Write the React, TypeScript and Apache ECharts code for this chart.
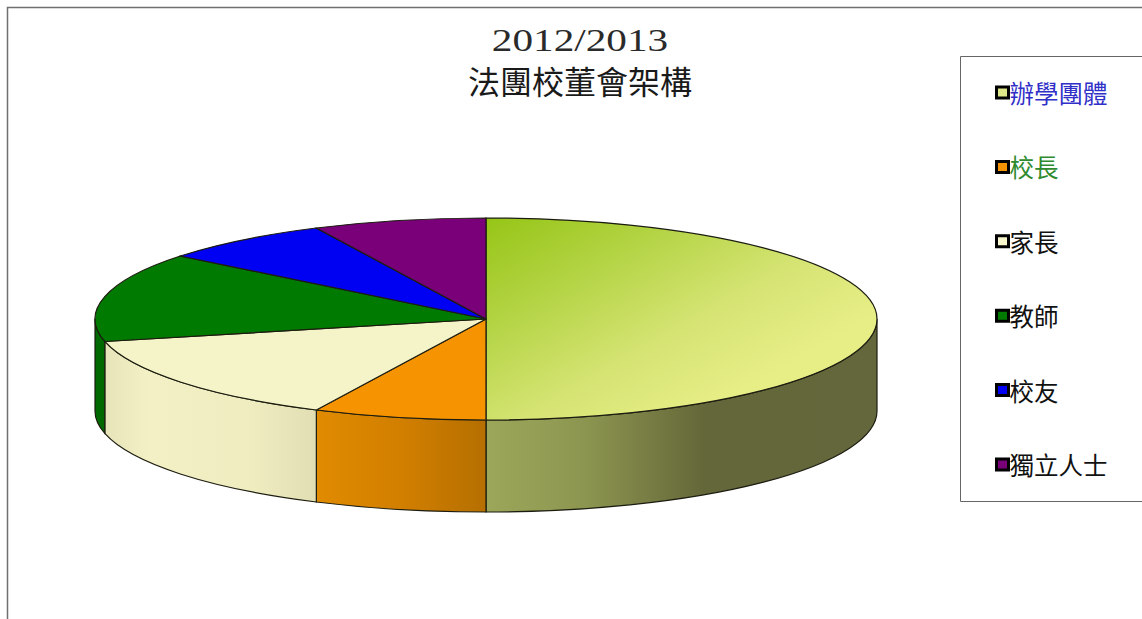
import React, { useEffect, useRef } from "react";
import * as echarts from "echarts";

const yearLabel = "2012/2013";
const titleLabel = "法團校董會架構";
const categories = ["辦學團體", "校長", "家長", "教師", "校友", "獨立人士"];
const members = [7, 1, 2, 2, 1, 1];
const topColors: any[] = [
  null,
  "#f59300",
  "#f4f4c8",
  "#007a00",
  "#0000f2",
  "#7a007a",
];
const legendColors = ["#3030c8", "#2e8b2e", "#111111", "#111111", "#111111", "#111111"];
const legendSwatches: any[] = ["#dfe98a", "#f59300", "#f8f8cc", "#007a00", "#0000f2", "#7a007a"];

const CX = 486;
const CY = 319;
const RX = 391;
const RY = 101;
const DEPTH = 92;
const TOTAL = members.reduce((a, b) => a + b, 0);

const pt = (deg: number, dy = 0) => {
  const r = (deg * Math.PI) / 180;
  return [CX + RX * Math.sin(r), CY - RY * Math.cos(r) + dy];
};
const grad = (x: number, y: number, x2: number, y2: number, stops: [number, string][]) =>
  new echarts.graphic.LinearGradient(
    x, y, x2, y2,
    stops.map(([offset, color]) => ({ offset, color })),
    true
  );

const topFills = (i: number) =>
  i === 0
    ? grad(486, 218, 625, 460, [
        [0, "#96c516"],
        [0.35, "#b4d445"],
        [0.7, "#d6e474"],
        [1, "#e7ee86"],
      ])
    : topColors[i];

const sideFills = (i: number) => {
  if (i === 0)
    return grad(486, 0, 877, 0, [
      [0, "#9ca75a"],
      [0.25, "#8d9650"],
      [0.56, "#646739"],
      [1, "#64673b"],
    ]);
  if (i === 1)
    return grad(316, 0, 486, 0, [
      [0, "#e08b00"],
      [0.5, "#d27f00"],
      [1, "#b56f00"],
    ]);
  if (i === 2)
    return grad(105, 0, 316, 0, [
      [0, "#e6e4b8"],
      [0.2, "#f2f0c4"],
      [0.7, "#efedc0"],
      [1, "#e0deb2"],
    ]);
  return "#006a00";
};

const renderSlice = (index: number) => (_params: any, api: any) => {
  const before = members.slice(0, index).reduce((a, b) => a + b, 0);
  const start = (before / TOTAL) * 360;
  const end = start + (api.value(0) / TOTAL) * 360;
  const [sx, sy] = pt(start);
  const [ex, ey] = pt(end);
  const large = end - start > 180 ? 1 : 0;
  const children: any[] = [];

  const wallStart = Math.max(start, 90);
  const wallEnd = Math.min(end, 270);
  if (wallEnd > wallStart) {
    const [ax, ay] = pt(wallStart);
    const [bx, by] = pt(wallEnd);
    const [cx, cy] = pt(wallEnd, DEPTH);
    const [dx, dy] = pt(wallStart, DEPTH);
    children.push({
      type: "path",
      shape: {
        pathData: `M${ax} ${ay}A${RX} ${RY} 0 0 1 ${bx} ${by}L${cx} ${cy}A${RX} ${RY} 0 0 0 ${dx} ${dy}Z`,
      },
      style: { fill: sideFills(index), stroke: "#1c1c10", lineWidth: 1.2 },
    });
  }
  children.push({
    type: "path",
    shape: {
      pathData: `M${CX} ${CY}L${sx} ${sy}A${RX} ${RY} 0 ${large} 1 ${ex} ${ey}Z`,
    },
    style: { fill: topFills(index), stroke: "#1c1c10", lineWidth: 1.2 },
  });
  return { type: "group", children };
};

export default function App() {
  const ref = useRef<HTMLDivElement>(null);
  useEffect(() => {
    const chart = echarts.init(ref.current!, null, { renderer: "svg" });
    chart.setOption({
      animation: false,
      backgroundColor: "#ffffff",
      title: {
        text: titleLabel,
        left: 580,
        top: 64,
        padding: 0,
        textAlign: "center",
        textStyle: {
          fontFamily: '"Noto Sans CJK TC"',
          fontSize: 32,
          fontWeight: "normal",
          color: "#1a1a1a",
        },
      },
      graphic: [
        {
          type: "rect",
          z: 0,
          silent: true,
          shape: { x: 7.5, y: 7.5, width: 1160, height: 640 },
          style: { fill: "#ffffff", stroke: "#707070", lineWidth: 1.5 },
        },
        {
          type: "rect",
          z: 1,
          silent: true,
          shape: { x: 960.5, y: 56.5, width: 220, height: 445 },
          style: { fill: "#ffffff", stroke: "#666666", lineWidth: 1 },
        },
        {
          type: "text",
          z: 5,
          x: 580,
          y: 25,
          scaleX: 1.33,
          style: {
            text: yearLabel,
            font: '31px "Liberation Serif"',
            fill: "#2a2a2a",
            textAlign: "center",
          },
        },
      ],
      legend: {
        orient: "vertical",
        left: 995,
        top: 79,
        padding: 0,
        itemGap: 47.4,
        itemWidth: 12,
        itemHeight: 11,
        selectedMode: false,
        textStyle: {
          fontFamily: '"Noto Sans CJK TC"',
          fontSize: 24.5,
          padding: [0, 0, 3, -4],
          lineHeight: 24,
        },
        data: categories.map((name, i) => ({
          name,
          icon: "rect",
          itemStyle: {
            color: legendSwatches[i],
            borderColor: "#000000",
            borderWidth: 3,
          },
          textStyle: { color: legendColors[i] },
        })),
      },
      series: categories.map((name, i) => ({
        type: "custom",
        name,
        coordinateSystem: "none",
        silent: true,
        data: [[members[i]]],
        renderItem: renderSlice(i),
      })),
    });
    return () => chart.dispose();
  }, []);
  return (
    <div
      ref={ref}
      style={{ position: "fixed", left: 0, top: 0, width: 1142, height: 619, background: "#fff" }}
    />
  );
}
